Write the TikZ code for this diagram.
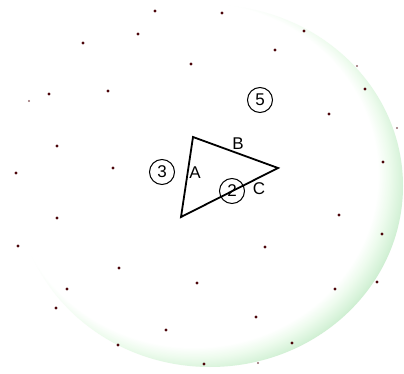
\documentclass[tikz,border=0pt]{standalone}
\usepackage{fontspec}
\setmainfont{Liberation Sans}
\definecolor{ringA}{rgb}{0.93,0.985,0.93}
\definecolor{ringB}{rgb}{0.84,0.95,0.85}
\definecolor{ringC}{rgb}{0.73,0.895,0.75}
\definecolor{dotred}{rgb}{0.30,0.02,0.04}
\pgfdeclareradialshading{disk}{\pgfpoint{-4bp}{3bp}}{%
  color(0bp)=(white); color(23.8bp)=(white); color(25.2bp)=(ringA);
  color(26.7bp)=(ringB); color(28.4bp)=(ringC); color(30bp)=(ringB); color(50bp)=(ringB)}
\tikzset{
  dot/.style={fill=dotred, draw=none},
  edge/.style={line width=1.8pt, line join=miter},
  lab/.style={font=\fontsize{17}{17}\selectfont, inner sep=0pt},
  num/.style={draw, circle, line width=1pt, minimum size=25pt, inner sep=0pt, font=\fontsize{17}{17}\selectfont},
}
\begin{document}
\begin{tikzpicture}[x=1pt, y=-1pt]
\useasboundingbox (0,0) rectangle (404,374);
\fill[white] (0,0) rectangle (404,374);
\shade[shading=disk] (210,186) ellipse [x radius=193, y radius=181];
% dots
\foreach \p in {(155,11),(222,13),(304,31),(138,34),(83,43),(275,50),(191,64),
  (365,89),(49,94),(108,91),(329,114),(57,146),(113,168),(383,162),(16,173),
  (57,218),(18,246),(339,215),(382,234),(265,247),(119,268),(67,289),(197,283),
  (335,289),(377,282),(56,308),(256,317),(166,330),(118,345),(292,343),(204,364)}
  \fill[dot] \p circle (1.7);
\foreach \p in {(357,66),(29,101),(397,128),(258,363)}
  \fill[dot, opacity=0.6] \p circle (1.1);
% triangle
\coordinate (T) at (193,137);
\coordinate (R) at (278,168);
\coordinate (L) at (181,217);
\draw[edge] (T) -- (R) -- (L) -- cycle;
\node[lab] (B) at (238,144) {B};
\node[lab] (A) at (195,173) {A};
\node[lab] (C) at (259,189) {C};
\node[num] (n3) at (162,172) {3};
\node[num] (n2) at (232,191) {2};
\node[num] (n5) at (260,100) {5};
\end{tikzpicture}
\end{document}
